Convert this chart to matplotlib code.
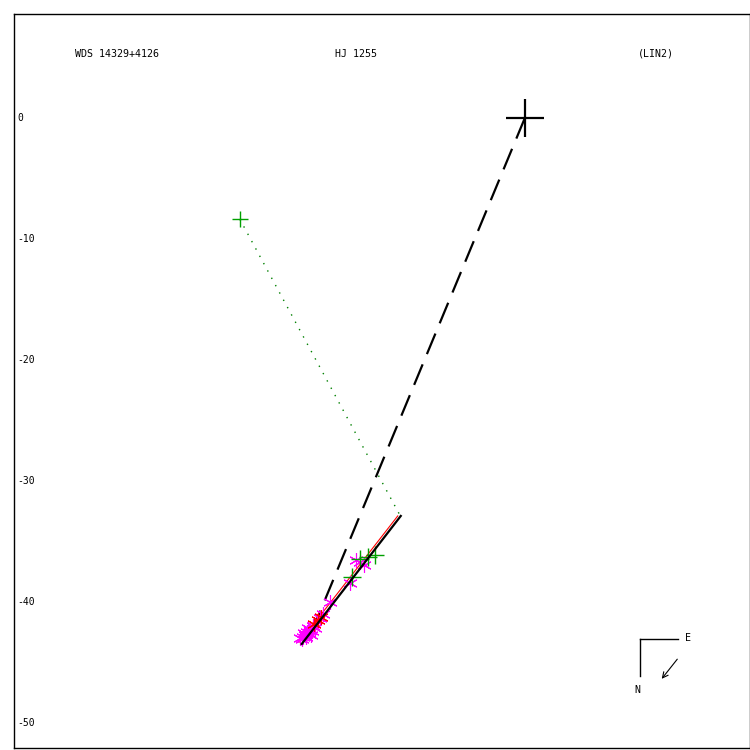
import numpy as np
import matplotlib
matplotlib.use('Agg')
import matplotlib.pyplot as plt

# primary star at the origin
primary = (0.0, 0.0)

# measurements (x, y) in arcsec
magenta_x = [-13.64, -13.31, -13.97, -14.46, -16.12, -16.94, -16.69,
             -17.52, -17.77, -18.02, -18.18, -18.35, -17.93, -17.60,
             -18.43, -18.10, -17.36, -17.85, -18.25, -17.70, -18.55]
magenta_y = [-36.69, -36.94, -36.53, -38.43, -40.00, -41.32, -40.99,
             -41.98, -42.31, -42.48, -42.73, -42.89, -42.15, -42.40,
             -43.06, -42.89, -42.15, -42.60, -42.55, -42.70, -42.95]

green_x = [-23.55, -12.40, -12.98, -13.64, -14.30]
green_y = [-8.35, -36.12, -36.28, -36.45, -37.93]

red_x = [-17.11, -17.44, -16.86]
red_y = [-41.49, -41.82, -41.24]

# linear fit (LIN2) and comparison line
fit_x = [-18.43, -10.25]
fit_y = [-43.47, -32.89]
red_line_x = [-18.60, -10.50]
red_line_y = [-43.31, -32.89]

# dashed line from primary to the last measurement
dash_x = [0.0, -17.27]
dash_y = [0.0, -41.65]

# dotted line from first measurement to fit end
dot_x = [-23.55, -10.33]
dot_y = [-8.35, -32.81]

yticks = [0, -10, -20, -30, -40, -50]

fig = plt.figure(figsize=(7.5, 7.5), dpi=100)
ax = fig.add_axes([14/750, 2/750, 736/750, 734/750])

ax.plot(dot_x, dot_y, color='green', linestyle=(0, (1, 5)), linewidth=1)
ax.plot(dash_x, dash_y, color='black', linestyle=(0, (10, 5)), linewidth=1.6)
ax.plot(red_line_x, red_line_y, color='red', linewidth=0.8)
ax.plot(magenta_x, magenta_y, linestyle='none', marker=(6, 2, 0),
        markersize=10.5, color='magenta', markeredgewidth=0.8)
ax.plot(red_x, red_y, linestyle='none', marker=(6, 2, 0),
        markersize=10.5, color='red', markeredgewidth=0.8)
ax.plot(green_x[1:], green_y[1:], linestyle='none', marker='+',
        markersize=13, color='#00a000', markeredgewidth=1)
ax.plot(green_x[:1], green_y[:1], linestyle='none', marker='+',
        markersize=11, color='#00a000', markeredgewidth=1)
ax.plot(fit_x, fit_y, color='black', linewidth=1.6)
ax.plot([primary[0]], [primary[1]], linestyle='none', marker='+',
        markersize=27, color='black', markeredgewidth=1.6)

ax.set_xlim(-42.2, 18.6)
ax.set_ylim(-52.07, 8.6)
ax.set_xticks([])
ax.set_yticks([])
for s in ax.spines.values():
    s.set_linewidth(1)

mono = 'DejaVu Sans Mono'
for t in yticks:
    ax.text(-41.95, t, str(t), fontsize=7, family=mono, va='center', ha='left')

fig.text(75/750, 1 - 54/750, 'WDS 14329+4126', fontsize=7.2, family=mono, va='center')
fig.text(335/750, 1 - 54/750, 'HJ 1255', fontsize=7.2, family=mono, va='center')
fig.text(638/750, 1 - 54/750, '(LIN2)', fontsize=7.2, family=mono, va='center')

# compass
def fx(p):
    return p / 750
def fy(p):
    return 1 - p / 750
fig.add_artist(plt.Line2D([fx(640), fx(678)], [fy(639), fy(639)], color='black', linewidth=1))
fig.add_artist(plt.Line2D([fx(640), fx(640)], [fy(639), fy(676)], color='black', linewidth=1))
fig.text(fx(685), fy(638), 'E', fontsize=7.2, family=mono, va='center')
fig.text(fx(634), fy(690), 'N', fontsize=7.2, family=mono, va='center')
ax.annotate('', xy=(fx(660), fy(681)), xytext=(fx(679), fy(657)),
            xycoords='figure fraction', textcoords='figure fraction',
            arrowprops=dict(arrowstyle='->', color='black', linewidth=0.8))

fig.savefig('out.png', dpi=100)
